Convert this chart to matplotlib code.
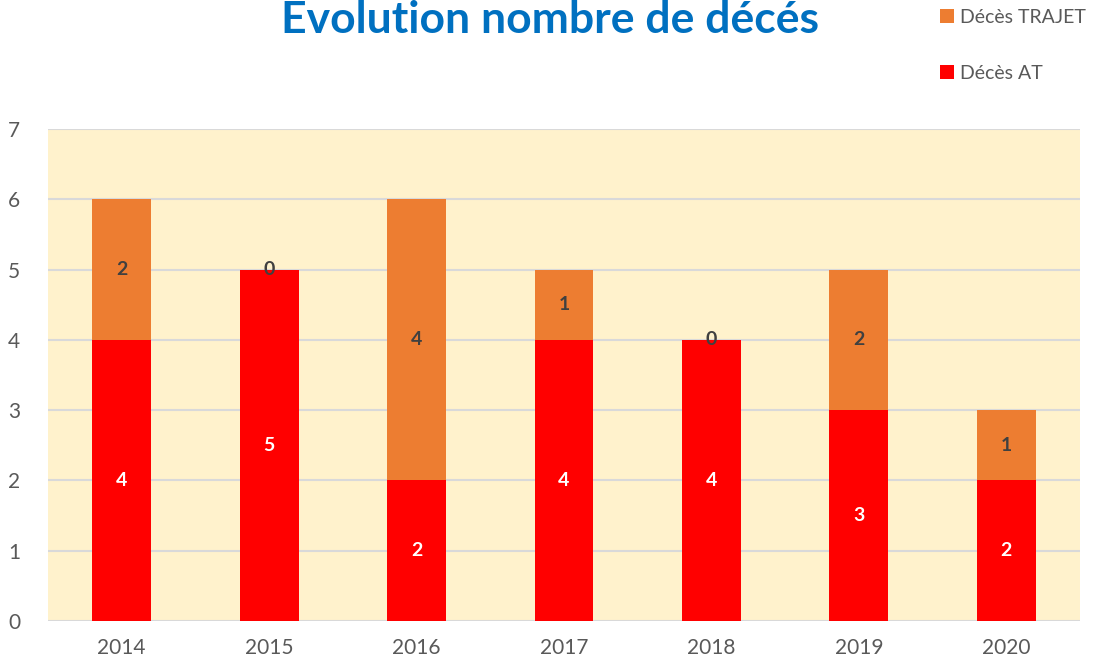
import matplotlib.pyplot as plt
import numpy as np

plt.rcParams['font.family'] = ['Lato', 'DejaVu Sans']

years = ["2014", "2015", "2016", "2017", "2018", "2019", "2020"]
deces_at = [4, 5, 2, 4, 4, 3, 2]
deces_trajet = [2, 0, 4, 1, 0, 2, 1]

red = "#FF0000"
orange = "#ED7D31"
grey_txt = "#595959"

fig = plt.figure(figsize=(10.96, 6.63), dpi=100)
ax = fig.add_axes([0.0438, 0.0633, 0.9416, 0.7421])
ax.set_facecolor("#FFF2CC")

x = np.arange(len(years))
ax.bar(x, deces_at, width=0.4, color=red, label="Décès AT", zorder=3)
ax.bar(x, deces_trajet, width=0.4, bottom=deces_at, color=orange,
       label="Décès TRAJET", zorder=3)

# data labels
for i in range(len(years)):
    ax.text(x[i], deces_at[i] / 2, str(deces_at[i]), ha="center", va="center",
            color="white", fontsize=14, fontweight="bold", zorder=4)
    ax.text(x[i], deces_at[i] + deces_trajet[i] / 2, str(deces_trajet[i]),
            ha="center", va="center", color="#404040", fontsize=14,
            fontweight="bold", zorder=4)

ax.set_xlim(-0.5, len(years) - 0.5)
ax.set_ylim(0, 7)
ax.set_yticks(range(8))
ax.set_xticks(x)
ax.set_xticklabels(years)
ax.grid(axis="y", color="#D9D9D9", linewidth=1.5, zorder=1)
ax.tick_params(length=0, labelsize=15, colors=grey_txt)
ax.tick_params(axis="x", pad=12)
ax.tick_params(axis="y", pad=20)
for s in ax.spines.values():
    s.set_visible(False)
ax.axhline(0, color="#D9D9D9", linewidth=2, zorder=2)

fig.text(0.502, 1 - 33 / 663, "Evolution nombre de décés", ha="center",
         va="baseline", fontsize=32, fontweight="bold", color="#0070C0")

handles, labels = ax.get_legend_handles_labels()
fig.legend(handles[::-1], labels[::-1], loc="upper left",
           bbox_to_anchor=(0.842, 1.013), frameon=False, fontsize=14,
           labelcolor=grey_txt, handlelength=0.7, handleheight=0.7,
           handletextpad=0.3, labelspacing=2.0)

fig.savefig("out.png", dpi=100)
